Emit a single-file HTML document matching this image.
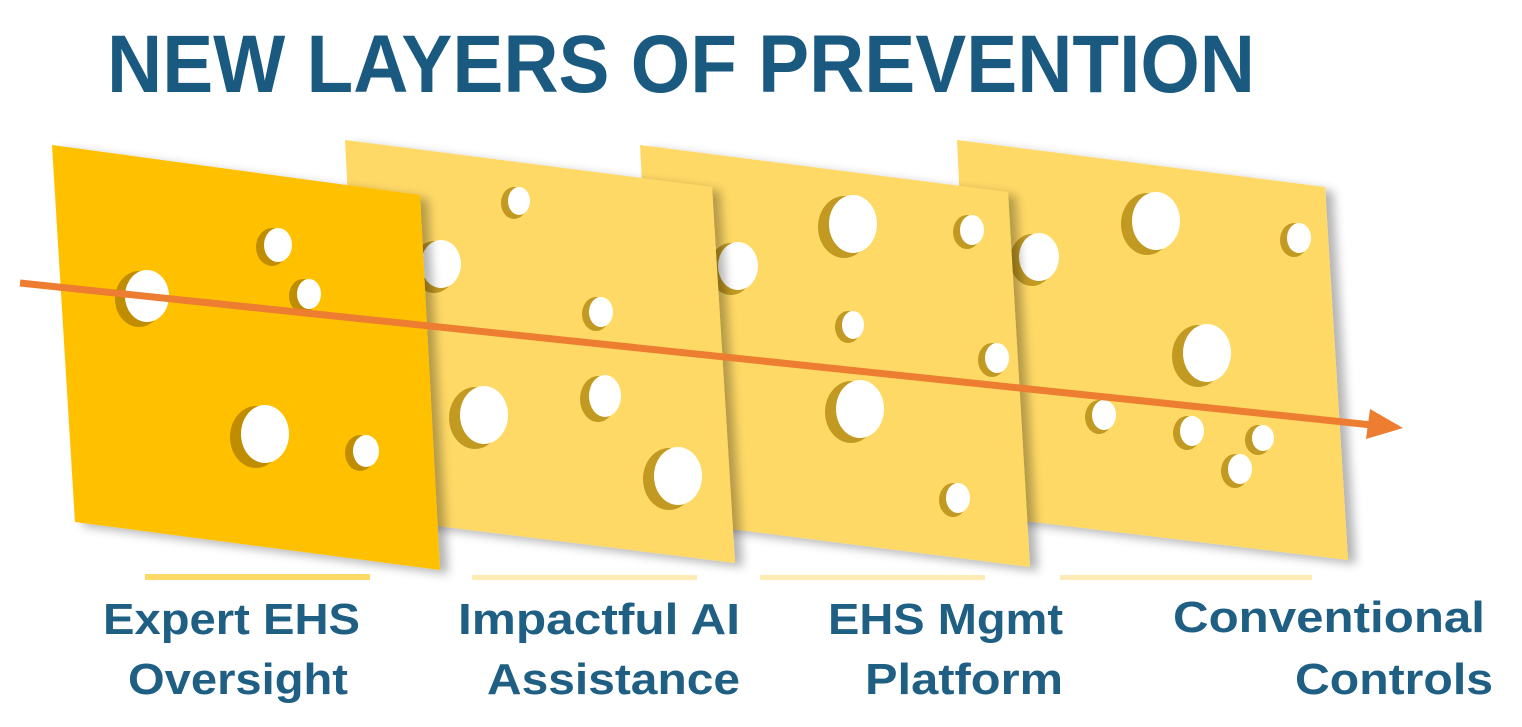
<!DOCTYPE html>
<html><head><meta charset="utf-8"><style>
html,body{margin:0;padding:0;background:#fff;}
svg{display:block;}
</style></head><body>
<svg width="1522" height="727" viewBox="0 0 1522 727" xmlns="http://www.w3.org/2000/svg">
<defs>
<filter id="sh" x="-10%" y="-10%" width="130%" height="130%">
<feGaussianBlur in="SourceAlpha" stdDeviation="5"/>
<feOffset dx="8" dy="4"/>
<feComponentTransfer><feFuncA type="linear" slope="0.3"/></feComponentTransfer>
<feMerge><feMergeNode/><feMergeNode in="SourceGraphic"/></feMerge>
</filter>
</defs>
<text x="107" y="92" font-family="Liberation Sans, sans-serif" font-weight="bold" font-size="82" fill="#1B5A80" textLength="1148" lengthAdjust="spacingAndGlyphs">NEW LAYERS OF PREVENTION</text>

<!-- slice 4 -->
<polygon points="957,140 1325,187 1348,560 975,515" fill="#FFD966" filter="url(#sh)"/>
<g fill="#C29A22">
<ellipse cx="1032" cy="260" rx="22" ry="26"/><ellipse cx="1147" cy="224" rx="26" ry="31"/><ellipse cx="1294" cy="240" rx="14" ry="17"/>
<ellipse cx="1198" cy="356" rx="26" ry="31"/><ellipse cx="1099" cy="417" rx="14" ry="17"/><ellipse cx="1187" cy="433" rx="14" ry="17"/>
<ellipse cx="1258" cy="440" rx="13" ry="15"/><ellipse cx="1235" cy="471" rx="14" ry="17"/></g>
<g fill="#fff">
<ellipse cx="1039" cy="257" rx="20" ry="24"/><ellipse cx="1156" cy="221" rx="24" ry="29"/><ellipse cx="1299" cy="238" rx="12" ry="15"/>
<ellipse cx="1207" cy="353" rx="24" ry="29"/><ellipse cx="1104" cy="415" rx="12" ry="15"/><ellipse cx="1192" cy="431" rx="12" ry="15"/>
<ellipse cx="1263" cy="438" rx="11" ry="13"/><ellipse cx="1240" cy="469" rx="12" ry="15"/></g>

<!-- slice 3 -->
<polygon points="640,145 1008,192 1030,567 660,520" fill="#FFD966" filter="url(#sh)"/>
<g fill="#C29A22">
<ellipse cx="731" cy="269" rx="22" ry="26"/><ellipse cx="844" cy="227" rx="26" ry="31"/><ellipse cx="967" cy="232" rx="14" ry="17"/>
<ellipse cx="848" cy="327" rx="13" ry="16"/><ellipse cx="992" cy="360" rx="14" ry="17"/><ellipse cx="851" cy="412" rx="26" ry="31"/>
<ellipse cx="953" cy="500" rx="14" ry="17"/></g>
<g fill="#fff">
<ellipse cx="738" cy="266" rx="20" ry="24"/><ellipse cx="853" cy="224" rx="24" ry="29"/><ellipse cx="972" cy="230" rx="12" ry="15"/>
<ellipse cx="853" cy="325" rx="11" ry="14"/><ellipse cx="997" cy="358" rx="12" ry="15"/><ellipse cx="860" cy="409" rx="24" ry="29"/>
<ellipse cx="958" cy="498" rx="12" ry="15"/></g>

<!-- slice 2 -->
<polygon points="345,140 712,187 735,563 365,517" fill="#FFD966" filter="url(#sh)"/>
<g fill="#C29A22">
<ellipse cx="434" cy="267" rx="22" ry="26"/><ellipse cx="514" cy="203" rx="13" ry="16"/><ellipse cx="596" cy="314" rx="14" ry="17"/>
<ellipse cx="475" cy="418" rx="26" ry="31"/><ellipse cx="598" cy="399" rx="18" ry="23"/><ellipse cx="669" cy="479" rx="26" ry="31"/></g>
<g fill="#fff">
<ellipse cx="441" cy="264" rx="20" ry="24"/><ellipse cx="519" cy="201" rx="11" ry="14"/><ellipse cx="601" cy="312" rx="12" ry="15"/>
<ellipse cx="484" cy="415" rx="24" ry="29"/><ellipse cx="605" cy="396" rx="16" ry="21"/><ellipse cx="678" cy="476" rx="24" ry="29"/></g>

<!-- slice 1 -->
<polygon points="52,145 420,195 440,570 75,522" fill="#FFC000" filter="url(#sh)"/>
<g fill="#C08C00">
<ellipse cx="139" cy="299" rx="24" ry="28"/><ellipse cx="272" cy="247" rx="16" ry="19"/><ellipse cx="303" cy="296" rx="14" ry="17"/>
<ellipse cx="256" cy="437" rx="26" ry="31"/><ellipse cx="360" cy="453" rx="15" ry="18"/></g>
<g fill="#fff">
<ellipse cx="147" cy="296" rx="22" ry="26"/><ellipse cx="278" cy="245" rx="14" ry="17"/><ellipse cx="309" cy="294" rx="12" ry="15"/>
<ellipse cx="265" cy="434" rx="24" ry="29"/><ellipse cx="366" cy="451" rx="13" ry="16"/></g>

<!-- arrow -->
<line x1="20" y1="283" x2="1372" y2="425" stroke="#ED7D31" stroke-width="7"/>
<polygon points="1403,428 1366,439 1370,409" fill="#ED7D31"/>

<!-- bars -->
<rect x="145" y="574" width="225" height="6" fill="#FFD966"/>
<rect x="472" y="575" width="225" height="5" fill="#FDEBB5"/>
<rect x="760" y="575" width="225" height="5" fill="#FDEBB5"/>
<rect x="1060" y="575" width="252" height="5" fill="#FDEBB5"/>

<g font-family="Liberation Sans, sans-serif" font-weight="bold" font-size="44" fill="#1F5F83">
<text x="103" y="634" textLength="257" lengthAdjust="spacingAndGlyphs">Expert EHS</text>
<text x="128" y="694" textLength="220" lengthAdjust="spacingAndGlyphs">Oversight</text>
<text x="458" y="634" textLength="282" lengthAdjust="spacingAndGlyphs">Impactful AI</text>
<text x="487" y="694" textLength="253" lengthAdjust="spacingAndGlyphs">Assistance</text>
<text x="828" y="634" textLength="235" lengthAdjust="spacingAndGlyphs">EHS Mgmt</text>
<text x="865" y="694" textLength="198" lengthAdjust="spacingAndGlyphs">Platform</text>
<text x="1173" y="632" textLength="312" lengthAdjust="spacingAndGlyphs">Conventional</text>
<text x="1295" y="694" textLength="198" lengthAdjust="spacingAndGlyphs">Controls</text>
</g>
</svg>
</body></html>
